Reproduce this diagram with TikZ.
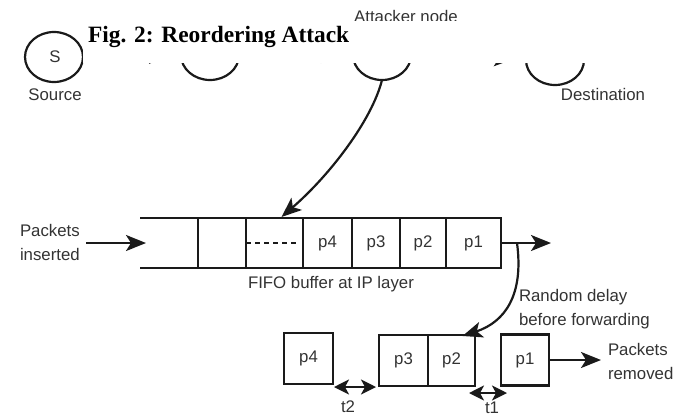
\documentclass[tikz,border=0pt]{standalone}
\usepackage{fontspec}
\setmainfont{Liberation Sans}
\newfontfamily\titlefont{Liberation Serif}
\usetikzlibrary{arrows.meta,shapes.geometric}
\definecolor{ink}{HTML}{1A1A1A}
\definecolor{txt}{HTML}{333333}

\begin{document}
\begin{tikzpicture}[x=1pt,y=-1pt,
  every node/.style={inner sep=0pt,outer sep=0pt,text=txt,
    font=\fontsize{16.8}{24}\selectfont},
  wire/.style={draw=ink,line width=2.2pt},
  arr/.style={wire,-{Stealth[length=20pt,width=16pt,inset=5pt]}},
  dbl/.style={wire,{Stealth[length=15pt,width=15pt,inset=4pt]}-{Stealth[length=15pt,width=15pt,inset=4pt]}},
  host/.style={ellipse,draw=ink,line width=2.2pt,minimum width=58pt,minimum height=50pt},
  cell/.style={rectangle,draw=ink,line width=2.2pt,minimum height=50pt},
  pkt/.style={rectangle,draw=ink,line width=2.2pt,minimum height=51pt},
]
\fill[white] (0,0) rectangle (692,418);
\useasboundingbox (0,0) rectangle (692,418);

% hosts along the path
\node[host] (src) at (54,57) {};
\node[anchor=base] at (55,62) {S};
\node[anchor=base] at (55,100) {Source};
\node[host] (hop) at (210,55) {};
\node[host] (atk) at (382,55) {};
\node[host] (dst) at (555,60) {};
\node[anchor=base] at (603,100) {Destination};
\draw[arr,shorten >=12pt] (src) -- (hop);
\draw[arr,shorten >=12pt] (hop) -- (atk);
\draw[arr,shorten >=12pt] (atk) -- (dst);

\node[anchor=base] (atklabel) at (406,22) {Attacker node};

% caption strip over the top of the hosts
\fill[white] (83,20.5) rectangle (692,63);
\node[anchor=base west,font=\titlefont\bfseries\fontsize{23.4}{26}\selectfont,text=black]
  (title) at (88,42) {Fig. 2: Reordering Attack};

% FIFO buffer
\node[cell,minimum width=48pt] (e1)   at (222,243) {};
\node[cell,minimum width=57pt] (dots) at (274.5,243) {};
\node[cell,minimum width=49pt] (b4)   at (327.5,243) {p4};
\node[cell,minimum width=48pt] (b3)   at (376,243) {p3};
\node[cell,minimum width=46pt] (b2)   at (423,243) {p2};
\node[cell,minimum width=55pt] (b1)   at (473.5,243) {p1};
\draw[wire] (140,218) -- (e1.north west);
\draw[wire] (140,268) -- (e1.south west);
\draw[ink,line width=2pt,dash pattern=on 5pt off 4pt] (dots.west) -- ([xshift=-5pt]dots.east);
\node[anchor=base west] at (248,288) {FIFO buffer at IP layer};

\node[anchor=base west,align=left] (inlabel) at (20,260) {Packets\\inserted};
\coordinate (inStart) at (86,243);
\draw[arr] (inStart) -- (146,243);

\coordinate (outEnd) at (551,243);
\draw[arr] (b1.east) -- (outEnd);

% attacker pulls packets into the buffer
\draw[arr] (atk.south) .. controls (372,120) and (330,175) .. ([xshift=7pt,yshift=1pt]dots.north);

% packets after the random delay
\node[pkt,minimum width=49pt] (q4) at (308.5,358.5) {p4};
\node[pkt,minimum width=49pt] (q3) at (403.5,360.5) {p3};
\node[pkt,minimum width=47pt] (q2) at (451.5,360.5) {p2};
\node[pkt,minimum width=48pt] (q1) at (525,360) {p1};

\coordinate (tap) at (517,243);
\draw[arr] (tap) .. controls (524,295) and (505,322) .. ([xshift=11pt,yshift=-1pt]q2.north);
\node[anchor=base west,align=left] (delay) at (519,325) {Random delay\\before forwarding};

\coordinate (rmEnd) at (601,360);
\draw[arr] (q1.east) -- (rmEnd);
\node[anchor=base west,align=left] (rmlabel) at (608,379) {Packets\\removed};

\coordinate (t2a) at (334,387);
\coordinate (t2b) at (376,387);
\draw[dbl] (t2a) -- (t2b);
\node[anchor=base] at (348,412) {t2};
\coordinate (t1a) at (469,393);
\coordinate (t1b) at (507,393);
\draw[dbl] (t1a) -- (t1b);
\node[anchor=base] at (492,413) {t1};
\end{tikzpicture}
\end{document}
